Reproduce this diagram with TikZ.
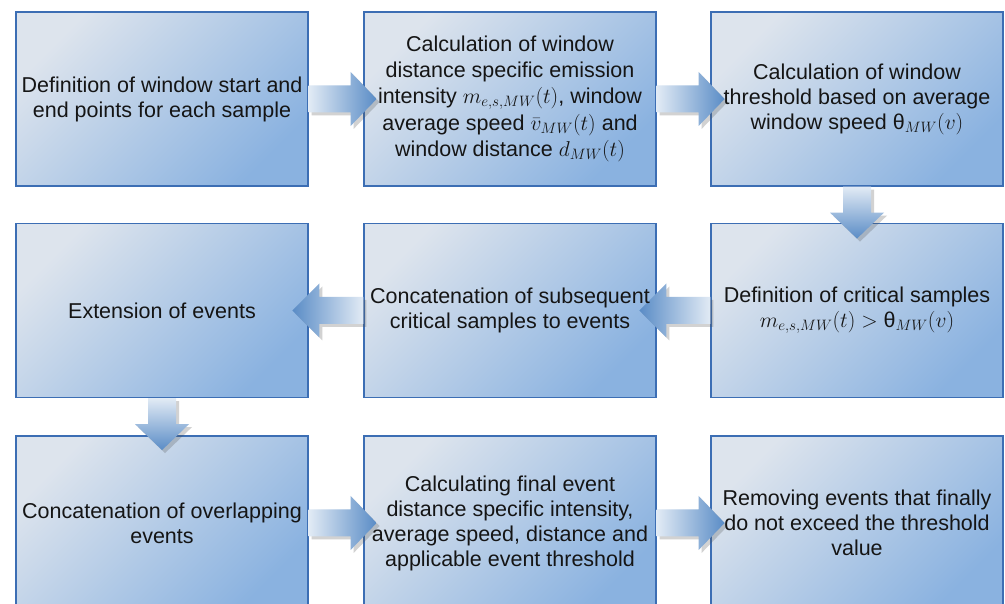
\RequirePackage{fix-cm}
\documentclass[tikz,border=0pt]{standalone}
\usepackage{fontspec}
\setmainfont{Liberation Sans}
\usetikzlibrary{calc,shadows,fadings}
\definecolor{boxborder}{HTML}{3C6EB4}
\definecolor{boxlight}{HTML}{DDE4ED}
\definecolor{boxdark}{HTML}{8AB2E0}
\definecolor{arrlight}{HTML}{E2EBF5}
\definecolor{arrdark}{HTML}{5A8CC6}
\definecolor{txt}{HTML}{151515}
\tikzset{
  stepbox/.style={draw=boxborder, line width=1.2pt, minimum width=292pt, minimum height=174pt,
    inner sep=0pt, shading=axis, top color=boxlight, bottom color=boxdark, shading angle=45},
  steptext/.style={align=center, text=txt, inner sep=0pt, font=\fontsize{21.5}{25}\selectfont},
  flowarrow/.style={draw=none, drop shadow={shadow xshift=3pt, shadow yshift=-3pt, opacity=0.25, fill=black!70}},
  flowright/.style={flowarrow, left color=arrlight, right color=arrdark},
  flowleft/.style={flowarrow, left color=arrdark, right color=arrlight},
  flowdown/.style={flowarrow, top color=arrlight, bottom color=arrdark},
}
% arrows: #1 = start anchor
\newcommand\flowR[1]{\path[flowright] ($(#1)+(0,13.5)$) -- ++(42,0) -- ++(0,13.5) -- ++(26,-27) -- ++(-26,-27) -- ++(0,13.5) -- ++(-42,0) -- cycle;}
\newcommand\flowL[1]{\path[flowleft] ($(#1)+(0,13.5)$) -- ++(-44,0) -- ++(0,13.5) -- ++(-27,-27) -- ++(27,-27) -- ++(0,13.5) -- ++(44,0) -- cycle;}
\newcommand\flowD[1]{\path[flowdown] ($(#1)+(-14,0)$) -- ++(0,-26) -- ++(-13,0) -- ++(27,-26) -- ++(27,26) -- ++(-13,0) -- ++(0,26) -- cycle;}
\begin{document}
\begin{tikzpicture}[x=1pt,y=1pt]
\clip (0,0) rectangle (1005,604);
\fill[white] (0,0) rectangle (1005,604);
% boxes
\node[stepbox] (b1) at (162,505) {};
\node[stepbox] (b2) at (510,505) {};
\node[stepbox] (b3) at (857,505) {};
\node[stepbox] (b4) at (162,293.5) {};
\node[stepbox] (b5) at (510,293.5) {};
\node[stepbox] (b6) at (857,293.5) {};
\node[stepbox] (b7) at (162,81) {};
\node[stepbox] (b8) at (510,81) {};
\node[stepbox] (b9) at (857,81) {};
% connectors
\flowR{b1.east}
\flowR{b2.east}
\flowD{b3.south}
\flowL{b6.west}
\flowL{b5.west}
\flowD{b4.south}
\flowR{b7.east}
\flowR{b8.east}
% texts
\node[steptext] (t1) at (b1.center) {Definition of window start and\\end points for each sample};
\node[steptext, font=\fontsize{21.5}{26}\selectfont] (t2) at (b2.center) {Calculation of window\\distance specific emission\\intensity $m_{e,s,MW}(t)$, window\\[1pt]average speed $\bar{v}_{MW}(t)$ and\\window distance $d_{MW}(t)$};
\node[steptext] (t3) at (b3.center) {Calculation of window\\threshold based on average\\window speed θ$_{MW}(v)$};
\node[steptext] (t4) at (b4.center) {Extension of events};
\node[steptext] (t5) at (b5.center) {Concatenation of subsequent\\critical samples to events};
\node[steptext] (t6) at (b6.center) {Definition of critical samples\\$m_{e,s,MW}(t) >{}$θ$_{MW}(v)$};
\node[steptext] (t7) at (b7.center) {Concatenation of overlapping\\events};
\node[steptext] (t8) at (b8.center) {Calculating final event\\distance specific intensity,\\average speed, distance and\\applicable event threshold};
\node[steptext] (t9) at (b9.center) {Removing events that finally\\do not exceed the threshold\\value};
\end{tikzpicture}
\end{document}
